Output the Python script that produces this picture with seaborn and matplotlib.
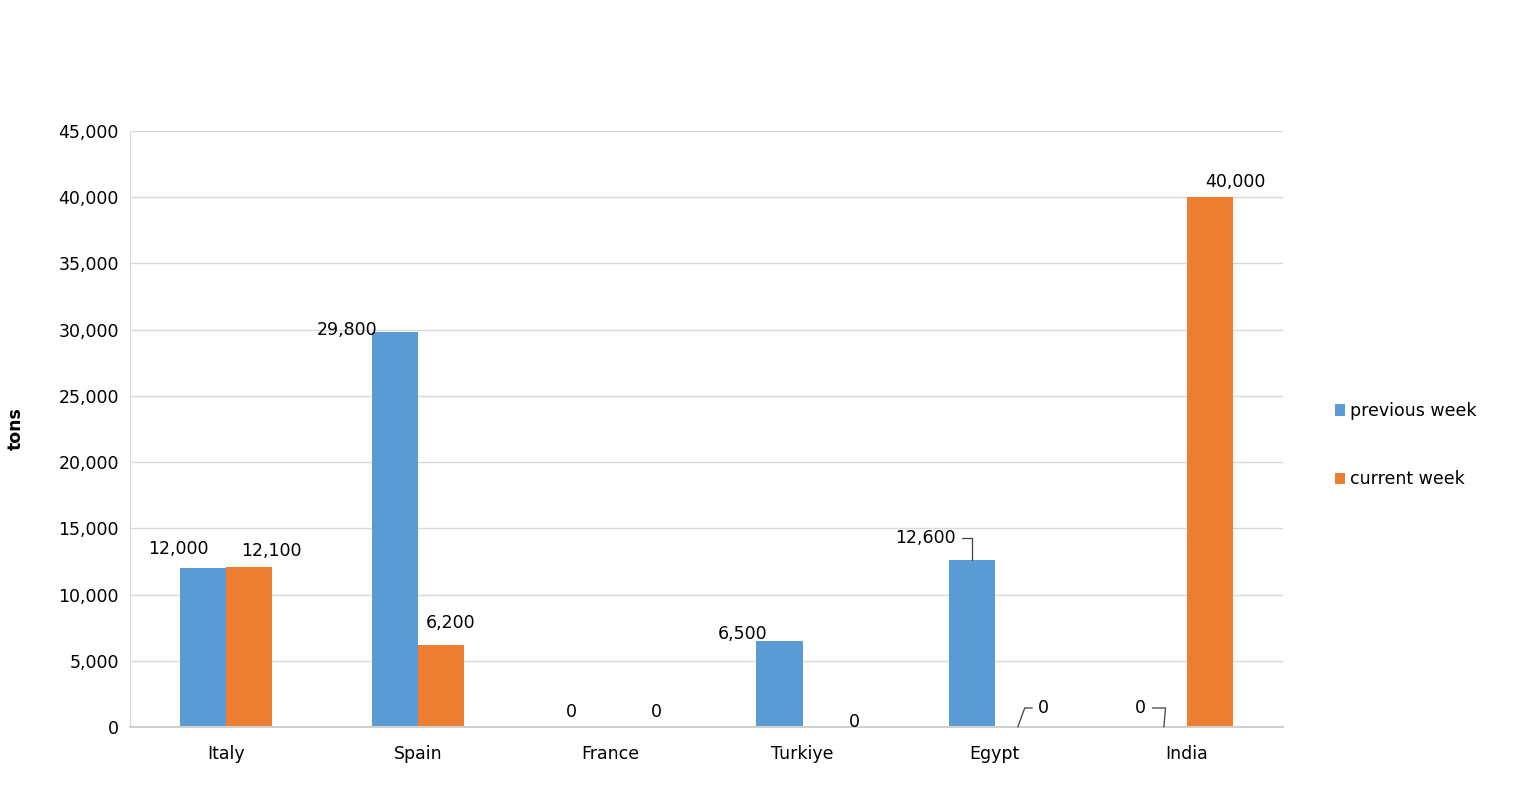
import matplotlib
matplotlib.use("Agg")
import matplotlib.pyplot as plt
import pandas as pd
import seaborn as sns

countries = ["Italy", "Spain", "France", "Turkiye", "Egypt", "India"]
previous_week = [12000, 29800, 0, 6500, 12600, 0]
current_week = [12100, 6200, 0, 0, 0, 40000]
series = ["previous week", "current week"]

# label offsets (pixels) relative to the bar top, mimicking the Excel placement
prev_offsets = [(-25, 19), (-48, 2), (-16, 15), (-37, 7), (-46, 22), (-23, 19)]
cur_offsets = [(22, 16), (9, 22), (23, 15), (29, 5), (26, 19), (25, 15)]
# leader lines: (series index, category index) -> (relpos, connectionstyle)
leaders = {
    (0, 4): ((1, 0.5), "angle,angleA=0,angleB=90,rad=0"),
    (1, 4): ((0, 0.5), "angle,angleA=180,angleB=70,rad=0"),
    (0, 5): ((1, 0.5), "angle,angleA=0,angleB=85,rad=0"),
}

df = pd.DataFrame({
    "country": countries * 2,
    "tons": previous_week + current_week,
    "week": [series[0]] * len(countries) + [series[1]] * len(countries),
})

sns.set_style("white")
plt.rcParams["font.family"] = ["DejaVu Sans"]
plt.rcParams["text.color"] = "black"

fig = plt.figure(figsize=(15.18, 7.98), dpi=100)
ax = fig.add_axes([0.0856, 0.089, 0.7596, 0.747])

sns.barplot(data=df, x="country", y="tons", hue="week", order=countries,
            hue_order=series, palette=["#5B9BD5", "#ED7D31"], width=0.48,
            gap=0, saturation=1, linewidth=0, ax=ax, legend=True)

ax.set_ylim(0, 45000)
ax.set_yticks(range(0, 45001, 5000))
ax.set_yticklabels([f"{v:,}" for v in range(0, 45001, 5000)])
ax.set_xlim(-0.5, len(countries) - 0.5)
ax.tick_params(axis="x", labelsize=12.5, pad=13, length=0, labelcolor="black")
ax.tick_params(axis="y", labelsize=12.5, length=0, pad=8, labelcolor="black")
ax.set_xlabel("")
ax.set_ylabel("tons", fontsize=12.5, fontweight="bold", labelpad=24, color="black")
ax.yaxis.grid(True, color="#D9D9D9", lw=1)
ax.set_axisbelow(True)
for side in ["top", "right"]:
    ax.spines[side].set_visible(False)
ax.spines["left"].set_color("#D9D9D9")
ax.spines["bottom"].set_color("#D0D0D0")
ax.spines["bottom"].set_linewidth(1.5)

for si, (cont, offs) in enumerate(zip(ax.containers, [prev_offsets, cur_offsets])):
    for ci, (bar, off) in enumerate(zip(cont.patches, offs)):
        x = bar.get_x() + bar.get_width() / 2
        y = bar.get_height()
        kw = {}
        if (si, ci) in leaders:
            relpos, cs = leaders[(si, ci)]
            kw["arrowprops"] = dict(arrowstyle="-", color="#404040", lw=0.9,
                                    shrinkA=2, shrinkB=0, relpos=relpos,
                                    connectionstyle=cs)
        ax.annotate(f"{y:,.0f}", xy=(x, y), xytext=off,
                    textcoords="offset pixels", ha="center", va="center",
                    fontsize=12.5, color="black", **kw)

handles, labels = ax.get_legend_handles_labels()
ax.get_legend().remove()
fig.legend(handles, labels, loc="center left", bbox_to_anchor=(0.869, 0.442),
           frameon=False, fontsize=12.5, handlelength=0.6, handleheight=0.6,
           handletextpad=0.3, labelspacing=2.9)

fig.savefig("out.png", dpi=100)
